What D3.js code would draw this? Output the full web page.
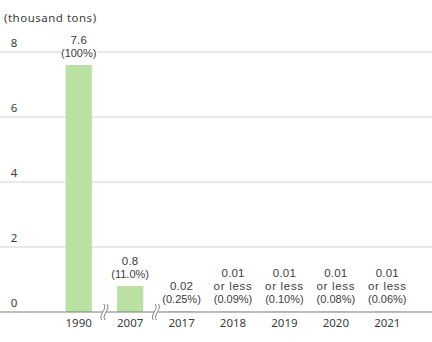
<!DOCTYPE html>
<html>
<head>
<meta charset="utf-8">
<script src="https://cdn.jsdelivr.net/npm/d3@7/dist/d3.min.js"></script>
<style>
  html, body { margin: 0; padding: 0; background: #fff; }
  svg { display: block; }
  text { font-family: "Noto Sans", "DejaVu Sans", sans-serif; fill: #3c3c3c; }
  text.bar-label { font-family: "Liberation Sans", Arial, sans-serif; }
</style>
</head>
<body>
<svg id="chart" width="432" height="342"></svg>
<script>
// Emissions by year (thousand tons) with share of the 1990 level
const years = ["1990", "2007", "2017", "2018", "2019", "2020", "2021"];
const values = [7.6, 0.8, 0.02, 0.01, 0.01, 0.01, 0.01];
const valueLabels = [["7.6"], ["0.8"], ["0.02"], ["0.01", "or less"], ["0.01", "or less"], ["0.01", "or less"], ["0.01", "or less"]];
const shareLabels = ["(100%)", "(11.0%)", "(0.25%)", "(0.09%)", "(0.10%)", "(0.08%)", "(0.06%)"];
const yTicks = [0, 2, 4, 6, 8];
const unitLabel = "(thousand tons)";
// Axis breaks sit between these pairs of years
const breaks = [["1990", "2007"], ["2007", "2017"]];

const W = 432, H = 342;
const svg = d3.select("#chart");

const x = d3.scaleBand().domain(years).range([53, 413]).paddingInner(0.49).paddingOuter(0.245);
const y = d3.scaleLinear().domain([0, 8]).range([312, 52]);

// Unit label
svg.append("text").attr("x", 4).attr("y", 22).attr("font-size", 11.5)
  .attr("letter-spacing", 0.5).text(unitLabel);

// Gridlines
svg.append("g").selectAll("line").data(yTicks.filter(d => d > 0)).join("line")
  .attr("x1", 0).attr("x2", W)
  .attr("y1", d => y(d)).attr("y2", d => y(d))
  .attr("stroke", "#d2d2d2").attr("stroke-width", 1.2);

// Y tick labels, sitting above each line
svg.append("g").selectAll("text").data(yTicks).join("text")
  .attr("x", 14).attr("y", d => y(d) - 5.5)
  .attr("text-anchor", "middle").attr("font-size", 11.5)
  .text(d => d);

// Bars
svg.append("g").selectAll("rect").data(years).join("rect")
  .attr("x", d => x(d)).attr("width", x.bandwidth())
  .attr("y", (d, i) => y(values[i]))
  .attr("height", (d, i) => y(0) - y(values[i]))
  .attr("fill", "#b9e1a1");

// Baseline
svg.append("line").attr("x1", 0).attr("x2", W)
  .attr("y1", y(0)).attr("y2", y(0))
  .attr("stroke", "#7a7a7a").attr("stroke-width", 1);

// Value and share labels stacked above each bar
const lab = svg.append("g");
years.forEach((yr, i) => {
  const cx = x(yr) + x.bandwidth() / 2;
  const shareY = y(values[i]) - 8.5;
  const lines = valueLabels[i];
  const halo = sel => sel.attr("class", "bar-label").attr("text-anchor", "middle")
    .attr("stroke", "#fff").attr("stroke-width", 3).attr("paint-order", "stroke");
  lines.forEach((s, k) => {
    lab.append("text").call(halo).attr("x", cx)
      .attr("y", shareY - 13 * (lines.length - k))
      .attr("font-size", 11.5)
      .attr("letter-spacing", /[a-z]/.test(s) ? 0.7 : 0.2)
      .text(s);
  });
  lab.append("text").call(halo).attr("x", cx).attr("y", shareY)
    .attr("font-size", 11).text(shareLabels[i]);
});

// X labels
svg.append("g").selectAll("text").data(years).join("text")
  .attr("x", d => x(d) + x.bandwidth() / 2).attr("y", 327)
  .attr("text-anchor", "middle").attr("font-size", 11.5)
  .text(d => d);

// Axis break marks: a pair of wavy strokes across the baseline
const bg = svg.append("g");
breaks.forEach(([a, b]) => {
  const cx = (x(a) + x(b) + x.bandwidth()) / 2;
  const cy = y(0);
  const s = dx => `M${cx + dx + 1},${cy - 8} C${cx + dx + 5},${cy - 3} ${cx + dx - 5},${cy + 3} ${cx + dx - 1},${cy + 8}`;
  bg.append("path").attr("d", s(0)).attr("fill", "none").attr("stroke", "#fff").attr("stroke-width", 3);
  [-1.6, 1.6].forEach(dx => {
    bg.append("path").attr("d", s(dx)).attr("fill", "none").attr("stroke", "#777").attr("stroke-width", 0.9);
  });
});
</script>
</body>
</html>
